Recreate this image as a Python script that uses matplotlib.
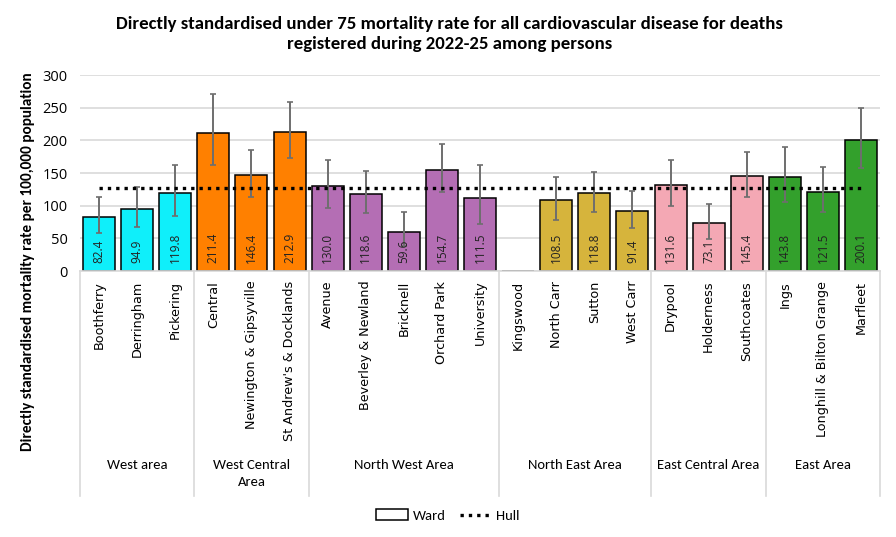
import matplotlib.pyplot as plt
from matplotlib import font_manager
from matplotlib.patches import Rectangle
from matplotlib.lines import Line2D
import numpy as np

wards = ['Boothferry', 'Derringham', 'Pickering',
         'Central', 'Newington & Gipsyville', "St Andrew's & Docklands",
         'Avenue', 'Beverley & Newland', 'Bricknell', 'Orchard Park', 'University',
         'Kingswood', 'North Carr', 'Sutton', 'West Carr',
         'Drypool', 'Holderness', 'Southcoates',
         'Ings', 'Longhill & Bilton Grange', 'Marfleet']
rates = [82.4, 94.9, 119.8,
         211.4, 146.4, 212.9,
         130.0, 118.6, 59.6, 154.7, 111.5,
         np.nan, 108.5, 118.8, 91.4,
         131.6, 73.1, 145.4,
         143.8, 121.5, 200.1]
lower_ci = [57.7, 66.9, 84.7,
            161.7, 112.8, 172.5,
            96.9, 89.3, 38.5, 120.4, 72.4,
            np.nan, 78.1, 90.3, 66.3,
            99.5, 49.0, 113.8,
            106.1, 90.3, 157.2]
upper_ci = [112.8, 128.6, 162.7,
            270.4, 185.2, 258.7,
            169.9, 153.1, 90.8, 193.9, 162.7,
            np.nan, 144.4, 152.0, 123.0,
            170.4, 103.1, 182.6,
            190.3, 158.7, 250.0]
hull = 126.5

areas = ['West area', 'West Central\nArea', 'North West Area',
         'North East Area', 'East Central Area', 'East Area']
area_sizes = [3, 3, 5, 4, 3, 3]
area_colors = ['#0FEFFA', '#FF8000', '#B46EB4', '#D6B43C', '#F4A8B4', '#33A02C']

# pick a narrow font for Excel-style headings if one is installed
names = {f.name for f in font_manager.fontManager.ttflist}
narrow = 'DejaVu Sans'
for cand in ['Carlito', 'Liberation Sans Narrow', 'Roboto Condensed', 'Open Sans Condensed', 'Roboto']:
    if cand in names:
        narrow = cand
        break
body = 'Open Sans' if 'Open Sans' in names else 'DejaVu Sans'

colors = []
for c, n in zip(area_colors, area_sizes):
    colors += [c] * n

x = np.arange(len(wards))
fig = plt.figure(figsize=(8.96, 5.37), dpi=100)
ax = fig.add_axes([0.0893, 0.4953, 0.8929, 0.365])

vals = np.array(rates, dtype=float)
lo = np.array(lower_ci, dtype=float)
hi = np.array(upper_ci, dtype=float)
ax.bar(x, np.nan_to_num(vals), 0.84, color=colors, edgecolor='black', linewidth=1.1, zorder=2)
ax.errorbar(x, vals, yerr=[vals - lo, hi - vals], fmt='none', ecolor='#6E6E6E',
            elinewidth=1.4, capsize=2.5, capthick=1.2, zorder=3)
ax.plot([x[0], x[-1]], [hull, hull], color='black', linestyle=(0, (1, 1.5)), linewidth=2.4, zorder=4)

for xi, v in zip(x, rates):
    if np.isnan(v):
        continue
    ax.text(xi, 12, f'{v:.1f}', rotation=90, ha='center', va='bottom',
            fontsize=8.5, family=body, color='#222222', zorder=5)

ax.set_xlim(-0.5, len(wards) - 0.5)
ax.set_ylim(0, 300)
ax.set_yticks(range(0, 301, 50))
ax.tick_params(axis='y', length=0, labelsize=10.5, pad=9)
for lab in ax.get_yticklabels():
    lab.set_family(body)
ax.set_xticks([])
ax.grid(axis='y', color='#D9D9D9', linewidth=1.2, zorder=0)
ax.set_axisbelow(True)
for s in ['top', 'right', 'left']:
    ax.spines[s].set_visible(False)
ax.spines['bottom'].set_color('#D9D9D9')
ax.spines['bottom'].set_linewidth(1.2)

# ward labels, area labels and separators below the axis
trans = ax.get_xaxis_transform()
for xi, w in zip(x, wards):
    ax.text(xi, -0.05, w, rotation=90, ha='center', va='top', transform=trans,
            fontsize=9.2, family='DejaVu Sans', color='black', clip_on=False)

edges = np.concatenate([[0], np.cumsum(area_sizes)]) - 0.5
for e in edges:
    ax.add_line(Line2D([e, e], [0, -1.15], transform=trans, color='#D9D9D9',
                       linewidth=1.2, clip_on=False))
for a, e0, e1 in zip(areas, edges[:-1], edges[1:]):
    ax.text((e0 + e1) / 2, -0.96, a, ha='center', va='top', transform=trans,
            fontsize=10.5, family=narrow, linespacing=1.45, clip_on=False)

fig.text(0.502, 1 - 34 / 537,
         'Directly standardised under 75 mortality rate for all cardiovascular disease for deaths\n'
         'registered during 2022-25 among persons',
         ha='center', va='center', fontsize=13.5, fontweight='bold', family=narrow, linespacing=1.25)
fig.text(0.031, 0.512, 'Directly standardised mortality rate per 100,000 population',
         rotation=90, ha='center', va='center', fontsize=11, fontweight='bold', family=narrow)

handles = [Rectangle((0, 0), 1, 1, facecolor='white', edgecolor='black', linewidth=1.1),
           Line2D([], [], color='black', linestyle=(0, (1, 1.5)), linewidth=2.4)]
fig.legend(handles, ['Ward', 'Hull'], loc='center', bbox_to_anchor=(0.5, 0.04), ncol=2,
           frameon=False, prop={'family': narrow, 'size': 10.5},
           handlelength=2.2, handletextpad=0.3, columnspacing=1.0)

fig.savefig('out.png', dpi=100)
